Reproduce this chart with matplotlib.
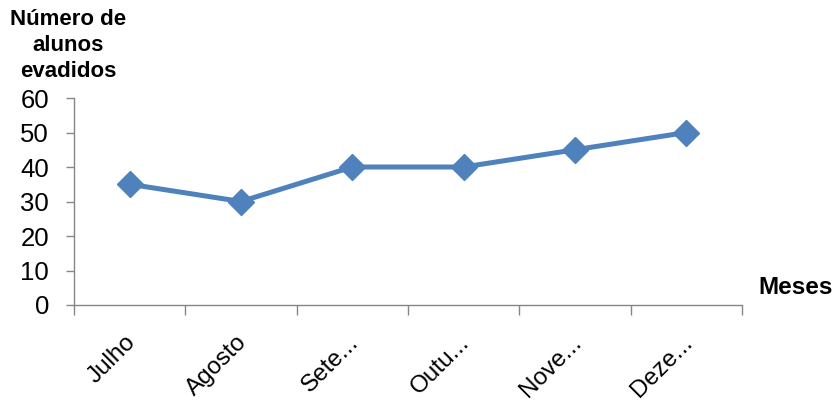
import numpy as np
import matplotlib.pyplot as plt
import matplotlib.transforms as mtransforms
from matplotlib.ticker import FixedLocator

plt.rcParams['font.family'] = ['Liberation Sans', 'DejaVu Sans']

meses = ["Julho", "Agosto", "Sete...", "Outu...", "Nove...", "Deze..."]
evadidos = [35, 30, 40, 40, 45, 50]
yticks = [0, 10, 20, 30, 40, 50, 60]

fig = plt.figure(figsize=(8.39, 4.03), dpi=100)
ax = fig.add_axes([74/839, 1 - 305/403, (742-74)/839, (305-98)/403])

x = np.arange(len(meses))
ax.plot(x, evadidos, color="#4F81BD", lw=3.6, marker="D", ms=13, mew=1,
        markerfacecolor="#4F81BD", markeredgecolor="#4F81BD")

ax.set_xlim(-0.5, len(meses) - 0.5)
ax.set_ylim(0, 60)
ax.set_yticks(yticks)

ax.set_xticks(x)
ax.set_xticklabels(meses, rotation=45, ha="right", rotation_mode="anchor",
                   fontsize=17.5)
ax.xaxis.set_minor_locator(FixedLocator(np.arange(-0.5, len(meses), 1)))
ax.tick_params(axis="x", which="major", length=0, pad=19)
ax.tick_params(axis="x", which="minor", length=7, color="#868686", width=1)
ax.tick_params(axis="y", length=6, color="#868686", width=1, labelsize=18.5, pad=12)

# nudge rotated labels a little left
shift = mtransforms.ScaledTranslation(-5/100, 0, fig.dpi_scale_trans)
for lbl in ax.get_xticklabels():
    lbl.set_transform(lbl.get_transform() + shift)

for s in ["top", "right"]:
    ax.spines[s].set_visible(False)
for s in ["left", "bottom"]:
    ax.spines[s].set_color("#868686")
    ax.spines[s].set_linewidth(1)

fig.text(68/839, 1 - 9/403, "Número de\nalunos\nevadidos", ha="center", va="top",
         fontsize=16, fontweight="bold", linespacing=1.3)
fig.text(758/839, 1 - 287/403, "Meses", ha="left", va="center",
         fontsize=17.5, fontweight="bold")

fig.savefig("out.png", dpi=100)
